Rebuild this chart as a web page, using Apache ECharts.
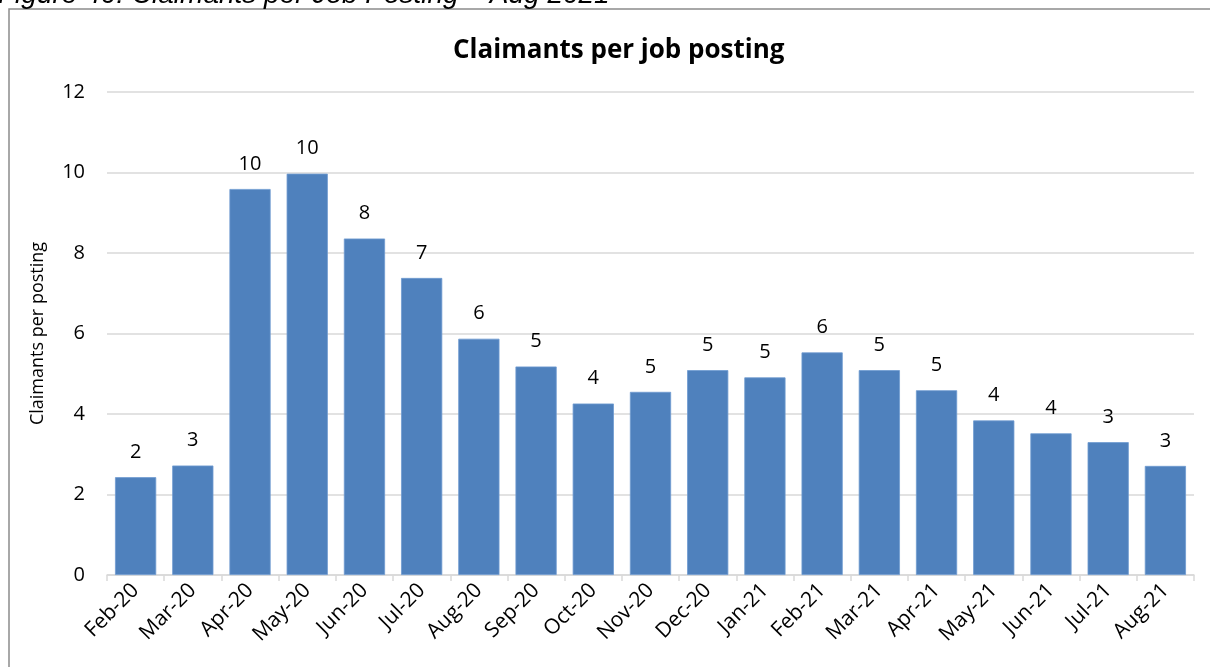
<!DOCTYPE html>
<html>
<head>
<meta charset="utf-8">
<title>Claimants per job posting</title>
<script src="https://cdn.jsdelivr.net/npm/echarts@6/dist/echarts.min.js"></script>
<style>
  html, body { margin: 0; padding: 0; background: #ffffff; }
  #chart { width: 1210px; height: 667px; }
</style>
</head>
<body>
<div id="chart"></div>
<script>
// Monthly categories, Feb 2020 – Aug 2021
const months = [
  'Feb-20', 'Mar-20', 'Apr-20', 'May-20', 'Jun-20', 'Jul-20', 'Aug-20',
  'Sep-20', 'Oct-20', 'Nov-20', 'Dec-20', 'Jan-21', 'Feb-21', 'Mar-21',
  'Apr-21', 'May-21', 'Jun-21', 'Jul-21', 'Aug-21'
];

// Claimants per job posting for each month
const claimantsPerPosting = [
  2.43, 2.72, 9.59, 9.97, 8.36, 7.38, 5.87,
  5.18, 4.26, 4.55, 5.09, 4.91, 5.53, 5.09,
  4.59, 3.84, 3.52, 3.30, 2.71
];

// Value axis range
const yMin = 0;
const yMax = 12;
const yStep = 2;

const titleText = 'Claimants per job posting';
const captionText = 'Figure 40: Claimants per Job Posting \u2013 Aug 2021';
const yAxisTitle = 'Claimants per posting';

const chart = echarts.init(document.getElementById('chart'), null, { renderer: 'canvas' });

const baseFont = "'Open Sans', 'Noto Sans', sans-serif";

chart.setOption({
  backgroundColor: '#ffffff',
  animation: false,
  graphic: [
    {
      // chart frame: only its left and top edges fall inside the page
      type: 'rect',
      shape: { x: 9, y: 9, width: 1220, height: 680 },
      style: { fill: 'none', stroke: '#8c8c8c', lineWidth: 1.5 },
      silent: true,
      z: 0
    },
    {
      // document caption above the frame, clipped by the page top
      type: 'text',
      left: -2,
      top: -19,
      style: {
        text: captionText,
        font: "italic 28px 'Liberation Sans', Arial, sans-serif",
        fill: '#000000'
      },
      silent: true
    }
  ],
  title: {
    text: titleText,
    left: 448,
    top: 33,
    textStyle: {
      fontFamily: baseFont,
      fontWeight: 'bold',
      fontSize: 26,
      color: '#000000'
    }
  },
  grid: {
    left: 107,
    right: 16,
    top: 92,
    bottom: 92,
    containLabel: false
  },
  xAxis: {
    type: 'category',
    data: months,
    boundaryGap: true,
    axisLine: { show: true, lineStyle: { color: '#d9d9d9', width: 1.5 } },
    axisTick: { show: true, alignWithLabel: false, length: 6, lineStyle: { color: '#d9d9d9', width: 1.5 } },
    axisLabel: {
      rotate: 45,
      interval: 0,
      margin: 12,
      fontFamily: baseFont,
      fontSize: 21,
      color: '#000000'
    }
  },
  yAxis: {
    type: 'value',
    min: yMin,
    max: yMax,
    interval: yStep,
    name: yAxisTitle,
    nameLocation: 'middle',
    nameGap: 60,
    nameTextStyle: { fontFamily: baseFont, fontSize: 18, color: '#000000' },
    axisLine: { show: false },
    axisTick: { show: false },
    splitLine: { show: true, lineStyle: { color: '#d9d9d9', width: 1.5 } },
    axisLabel: {
      margin: 22,
      fontFamily: baseFont,
      fontSize: 20,
      color: '#000000'
    }
  },
  series: [
    {
      type: 'bar',
      data: claimantsPerPosting,
      barCategoryGap: '28%',
      itemStyle: { color: '#4f81bd', borderColor: '#6f9ad0', borderWidth: 0.8 },
      label: {
        show: true,
        position: 'top',
        distance: 15,
        formatter: p => String(Math.round(p.value)),
        fontFamily: baseFont,
        fontSize: 20,
        color: '#000000'
      }
    }
  ]
});
</script>
</body>
</html>
